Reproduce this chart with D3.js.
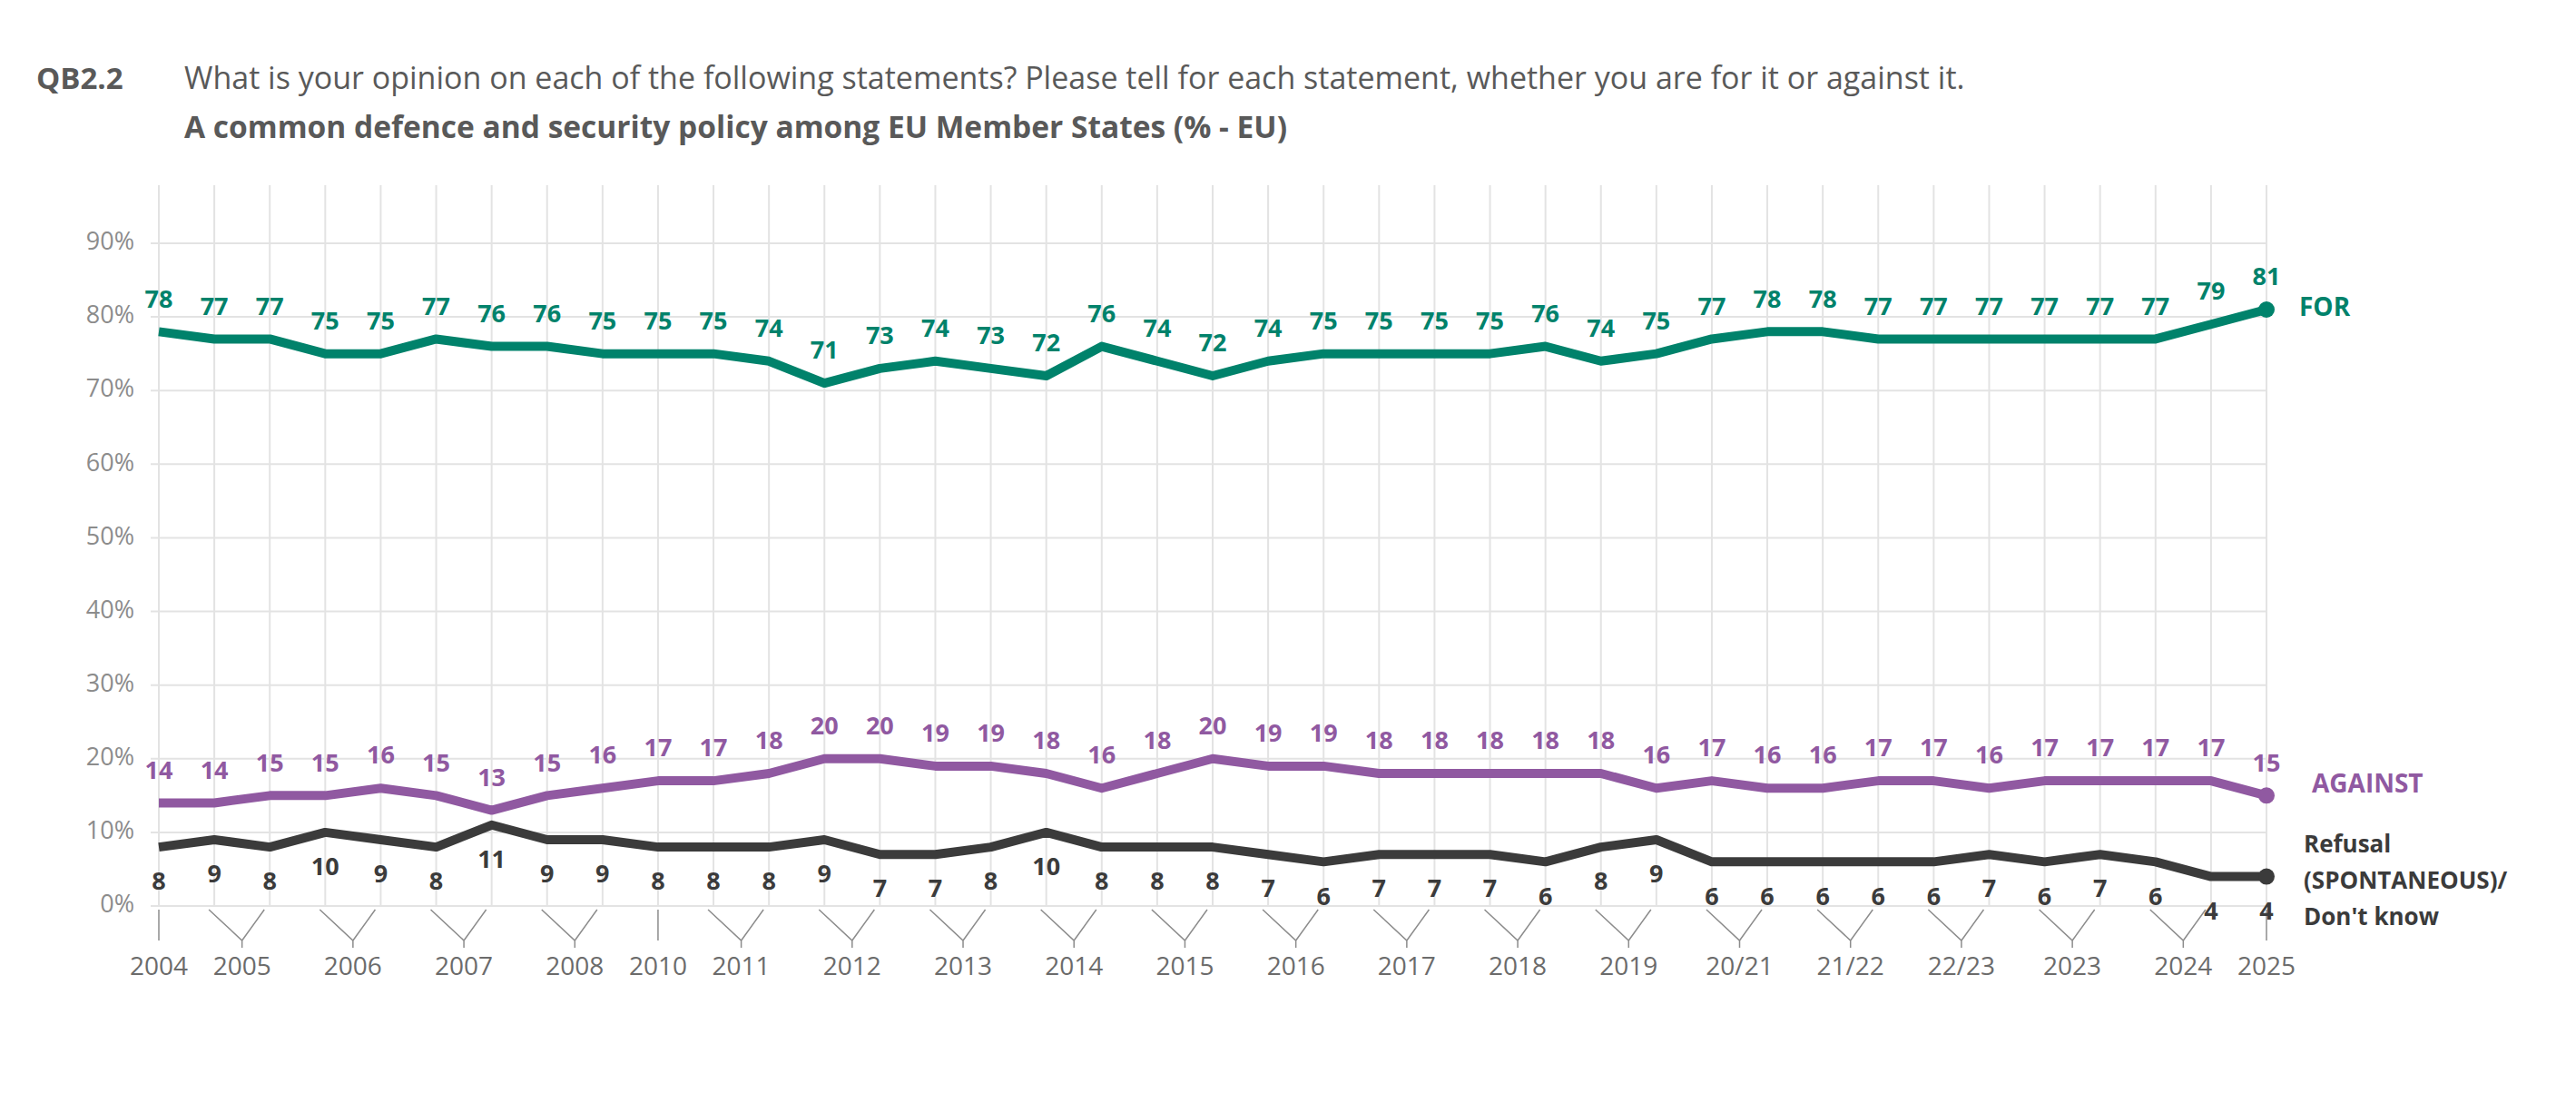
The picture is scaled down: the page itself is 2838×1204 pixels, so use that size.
<!DOCTYPE html>
<html>
<head>
<meta charset="utf-8">
<script src="https://cdn.jsdelivr.net/npm/d3@7"></script>
<style>
  body { margin: 0; background: #fff; }
  text { font-family: "Open Sans", "Noto Sans", sans-serif; }
</style>
</head>
<body>
<div id="chart"></div>
<script>
// data
const forValues = [78,77,77,75,75,77,76,76,75,75,75,74,71,73,74,73,72,76,74,72,74,75,75,75,75,76,74,75,77,78,78,77,77,77,77,77,77,79,81];
const againstValues = [14,14,15,15,16,15,13,15,16,17,17,18,20,20,19,19,18,16,18,20,19,19,18,18,18,18,18,16,17,16,16,17,17,16,17,17,17,17,15];
const dkValues = [8,9,8,10,9,8,11,9,9,8,8,8,9,7,7,8,10,8,8,8,7,6,7,7,7,6,8,9,6,6,6,6,6,7,6,7,6,4,4];
const yearLabels = ["2004","2005","2006","2007","2008","2010","2011","2012","2013","2014","2015","2016","2017","2018","2019","20/21","21/22","22/23","2023","2024","2025"];
const yearSpans = [1,2,2,2,2,1,2,2,2,2,2,2,2,2,2,2,2,2,2,2,1];
const yTicks = [0,10,20,30,40,50,60,70,80,90];

const width = 2838, height = 1204;
const svg = d3.select("#chart").append("svg")
    .attr("width", width).attr("height", height);

const x = d3.scaleLinear().domain([0, forValues.length - 1]).range([175, 2497]);
const y = d3.scaleLinear().domain([0, 90]).range([998, 268]);

// titles
svg.append("text").attr("x", 40).attr("y", 98)
    .attr("font-size", 33).attr("font-weight", "bold").attr("fill", "#595959").text("QB2.2");
svg.append("text").attr("x", 203).attr("y", 98)
    .attr("font-size", 34).attr("fill", "#595959")
    .text("What is your opinion on each of the following statements? Please tell for each statement, whether you are for it or against it.");
svg.append("text").attr("x", 203).attr("y", 152)
    .attr("font-size", 33.5).attr("font-weight", "bold").attr("fill", "#595959")
    .text("A common defence and security policy among EU Member States (% - EU)");

// grid
svg.append("g").selectAll("line").data(d3.range(forValues.length)).join("line")
    .attr("x1", d => x(d)).attr("x2", d => x(d))
    .attr("y1", 204).attr("y2", y(0))
    .attr("stroke", "#e3e3e3").attr("stroke-width", 2);
svg.append("g").selectAll("line").data(yTicks).join("line")
    .attr("x1", 166).attr("x2", x(forValues.length - 1))
    .attr("y1", d => y(d)).attr("y2", d => y(d))
    .attr("stroke", "#e3e3e3").attr("stroke-width", 2);

svg.append("g").selectAll("text").data(yTicks).join("text")
    .attr("x", 148).attr("y", d => y(d))
    .attr("text-anchor", "end").attr("dominant-baseline", "middle")
    .attr("font-size", 27).attr("fill", "#8c8c8c")
    .text(d => d + "%");

// x-axis brackets and year labels
let start = 0;
const groups = yearLabels.map((lab, i) => {
    const g = { label: lab, a: start, b: start + yearSpans[i] - 1 };
    start += yearSpans[i];
    return g;
});
const axisG = svg.append("g");
groups.forEach(g => {
    const mid = (x(g.a) + x(g.b)) / 2;
    if (g.a === g.b) {
        axisG.append("line").attr("x1", mid).attr("x2", mid).attr("y1", 1002).attr("y2", 1036)
            .attr("stroke", "#8c8c8c").attr("stroke-width", 1.5);
    } else {
        axisG.append("polyline")
            .attr("points", `${x(g.a) - 6},1002 ${mid},1036 ${x(g.b) - 6},1002 ${mid},1036 ${mid},1044`)
            .attr("fill", "none").attr("stroke", "#8c8c8c").attr("stroke-width", 1.5);
    }
    axisG.append("text").attr("x", mid).attr("y", 1074)
        .attr("text-anchor", "middle").attr("font-size", 28)
        .attr("font-family", "Liberation Sans, Arial, sans-serif")
        .attr("fill", "#6b6b6b").text(g.label);
});

// series
const series = [
    { name: "FOR", values: forValues, color: "#00826B", dy: -34 },
    { name: "AGAINST", values: againstValues, color: "#9059A1", dy: -34 },
    { name: "DK", values: dkValues, color: "#3b3b3b", dy: 40 }
];
const line = d3.line().x((d, i) => x(i)).y(d => y(d));

series.forEach(s => {
    svg.append("path").datum(s.values)
        .attr("d", line).attr("fill", "none")
        .attr("stroke", s.color).attr("stroke-width", 10).attr("stroke-linejoin", "round");
    svg.append("circle").attr("cx", x(s.values.length - 1)).attr("cy", y(s.values[s.values.length - 1]))
        .attr("r", 9).attr("fill", s.color);
    svg.append("g").selectAll("text").data(s.values).join("text")
        .attr("x", (d, i) => x(i)).attr("y", d => y(d) + s.dy)
        .attr("text-anchor", "middle").attr("dominant-baseline", "middle")
        .attr("font-size", 27).attr("font-weight", "bold").attr("fill", s.color)
        .text(d => d);
});

// end labels
svg.append("text").attr("x", 2533).attr("y", 341).attr("dominant-baseline", "middle")
    .attr("font-size", 28).attr("font-weight", "bold").attr("fill", "#00826B").text("FOR");
svg.append("text").attr("x", 2547).attr("y", 866).attr("dominant-baseline", "middle")
    .attr("font-size", 28).attr("font-weight", "bold").attr("fill", "#9059A1").text("AGAINST");
["Refusal", "(SPONTANEOUS)/", "Don't know"].forEach((t, i) => {
    svg.append("text").attr("x", 2538).attr("y", 932 + i * 40).attr("dominant-baseline", "middle")
        .attr("font-size", 26).attr("font-weight", "bold").attr("fill", "#3b3b3b").text(t);
});
</script>
</body>
</html>
